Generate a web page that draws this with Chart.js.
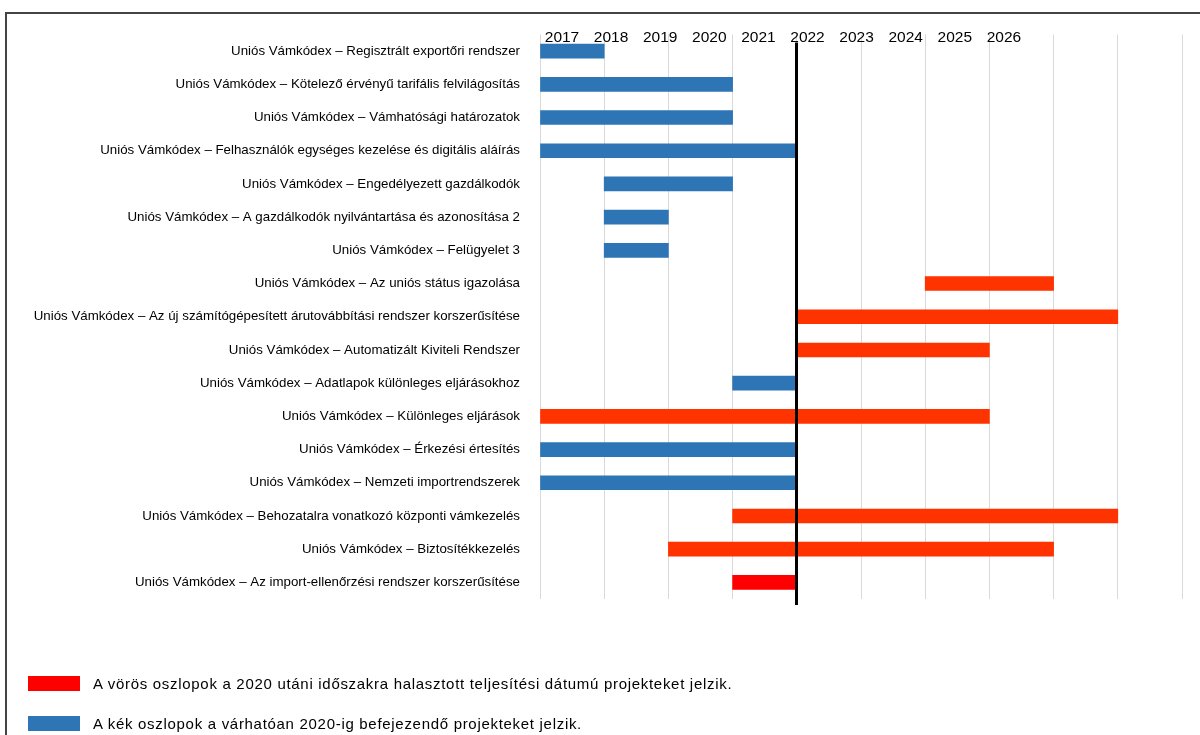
<!DOCTYPE html>
<html>
<head>
<meta charset="utf-8">
<script src="https://cdn.jsdelivr.net/npm/chart.js@4"></script>
<style>
  html, body { margin: 0; padding: 0; background: #fff; }
  body { width: 1200px; height: 735px; position: relative; overflow: hidden; font-family: 'Liberation Sans', Arial, sans-serif; }
  #frame { position: absolute; left: 5px; top: 12px; width: 1300px; height: 800px; border: 2px solid #444; box-sizing: border-box; }
  #wrap { position: absolute; left: 0; top: 0; width: 1200px; height: 735px; }
  .leg { position: absolute; left: 28px; display: flex; align-items: center; font-size: 15px; letter-spacing: 0.7px; color: #000; }
  .leg i { display: inline-block; width: 52px; height: 15px; margin-right: 13px; }
</style>
</head>
<body>
<div id="frame"></div>
<div id="wrap"><canvas id="gantt"></canvas></div>
<div class="leg" style="top:675px"><i style="background:#ff0000"></i>A vörös oszlopok a 2020 utáni időszakra halasztott teljesítési dátumú projekteket jelzik.</div>
<div class="leg" style="top:715px"><i style="background:#2e75b6"></i>A kék oszlopok a várhatóan 2020-ig befejezendő projekteket jelzik.</div>
<script>
/* ── Data ── */

const PROJECTS = [
  'Uniós Vámkódex – Regisztrált exportőri rendszer',
  'Uniós Vámkódex – Kötelező érvényű tarifális felvilágosítás',
  'Uniós Vámkódex – Vámhatósági határozatok',
  'Uniós Vámkódex – Felhasználók egységes kezelése és digitális aláírás',
  'Uniós Vámkódex – Engedélyezett gazdálkodók',
  'Uniós Vámkódex – A gazdálkodók nyilvántartása és azonosítása 2',
  'Uniós Vámkódex – Felügyelet 3',
  'Uniós Vámkódex – Az uniós státus igazolása',
  'Uniós Vámkódex – Az új számítógépesített árutovábbítási rendszer korszerűsítése',
  'Uniós Vámkódex – Automatizált Kiviteli Rendszer',
  'Uniós Vámkódex – Adatlapok különleges eljárásokhoz',
  'Uniós Vámkódex – Különleges eljárások',
  'Uniós Vámkódex – Érkezési értesítés',
  'Uniós Vámkódex – Nemzeti importrendszerek',
  'Uniós Vámkódex – Behozatalra vonatkozó központi vámkezelés',
  'Uniós Vámkódex – Biztosítékkezelés',
  'Uniós Vámkódex – Az import-ellenőrzési rendszer korszerűsítése'
];

// start / end in grid periods
const STARTS = [0, 0, 0, 0, 1, 1, 1, 6, 4, 4, 3, 0, 0, 0, 3, 2, 3];
const ENDS   = [1, 3, 3, 4, 3, 2, 2, 8, 9, 7, 4, 7, 4, 4, 9, 8, 4];
const KINDS  = ['b', 'b', 'b', 'b', 'b', 'b', 'b', 'r', 'r', 'r', 'b', 'r', 'b', 'b', 'r', 'r', 'rr'];

const YEARS = [2017, 2018, 2019, 2020, 2021, 2022, 2023, 2024, 2025, 2026];
const CUTOFF = 4;

const COLORS = { b: '#2e75b6', r: '#ff3300', rr: '#ff0000' };

/* ── Chart ── */

const cutoffLine = {
  id: 'cutoffLine',
  afterDatasetsDraw(chart) {
    const { ctx, chartArea, scales } = chart;
    const x = Math.round(scales.x.getPixelForValue(CUTOFF)) - 0.5;
    ctx.save();
    ctx.strokeStyle = '#000';
    ctx.lineWidth = 3;
    ctx.beginPath();
    ctx.moveTo(x, chartArea.top + 8);
    ctx.lineTo(x, chartArea.bottom + 6);
    ctx.stroke();
    ctx.restore();
  }
};

new Chart(document.getElementById('gantt'), {
  type: 'bar',
  data: {
    labels: PROJECTS,
    datasets: [{
      data: STARTS.map((s, i) => [s, ENDS[i]]),
      backgroundColor: KINDS.map(k => COLORS[k]),
      borderWidth: 0,
      borderSkipped: false,
      barThickness: 14
    }]
  },
  options: {
    responsive: true,
    maintainAspectRatio: false,
    animation: false,
    indexAxis: 'y',
    layout: { padding: { left: 0, right: 18, top: 0, bottom: 136 } },
    plugins: { legend: { display: false }, tooltip: { enabled: false } },
    scales: {
      x: {
        type: 'linear', position: 'bottom', min: 0, max: 10,
        ticks: { display: false, stepSize: 1 },
        grid: { color: '#d9d9d9', lineWidth: 1, drawTicks: false },
        border: { display: false },
        afterFit: s => { s.height = 0; }
      },
      x2: {
        type: 'linear', position: 'top', min: 2016.552, max: 2029.627,
        ticks: {
          stepSize: 1, autoSkip: false, maxRotation: 0, mirror: true, padding: -6, includeBounds: false,
          color: '#000', font: { family: 'Liberation Sans', size: 15.5 },
          callback: v => YEARS.includes(v) ? String(v) : ''
        },
        grid: { display: false, drawTicks: false },
        border: { display: false },
        afterFit: s => { s.height = 34.5; }
      },
      y: {
        ticks: { color: '#000', padding: 20, font: { family: 'Liberation Sans', size: 13.3 } },
        grid: { display: false, drawTicks: false },
        border: { display: false },
        afterFit: s => { s.width = 540; }
      }
    }
  },
  plugins: [cutoffLine]
});
</script>
</body>
</html>
